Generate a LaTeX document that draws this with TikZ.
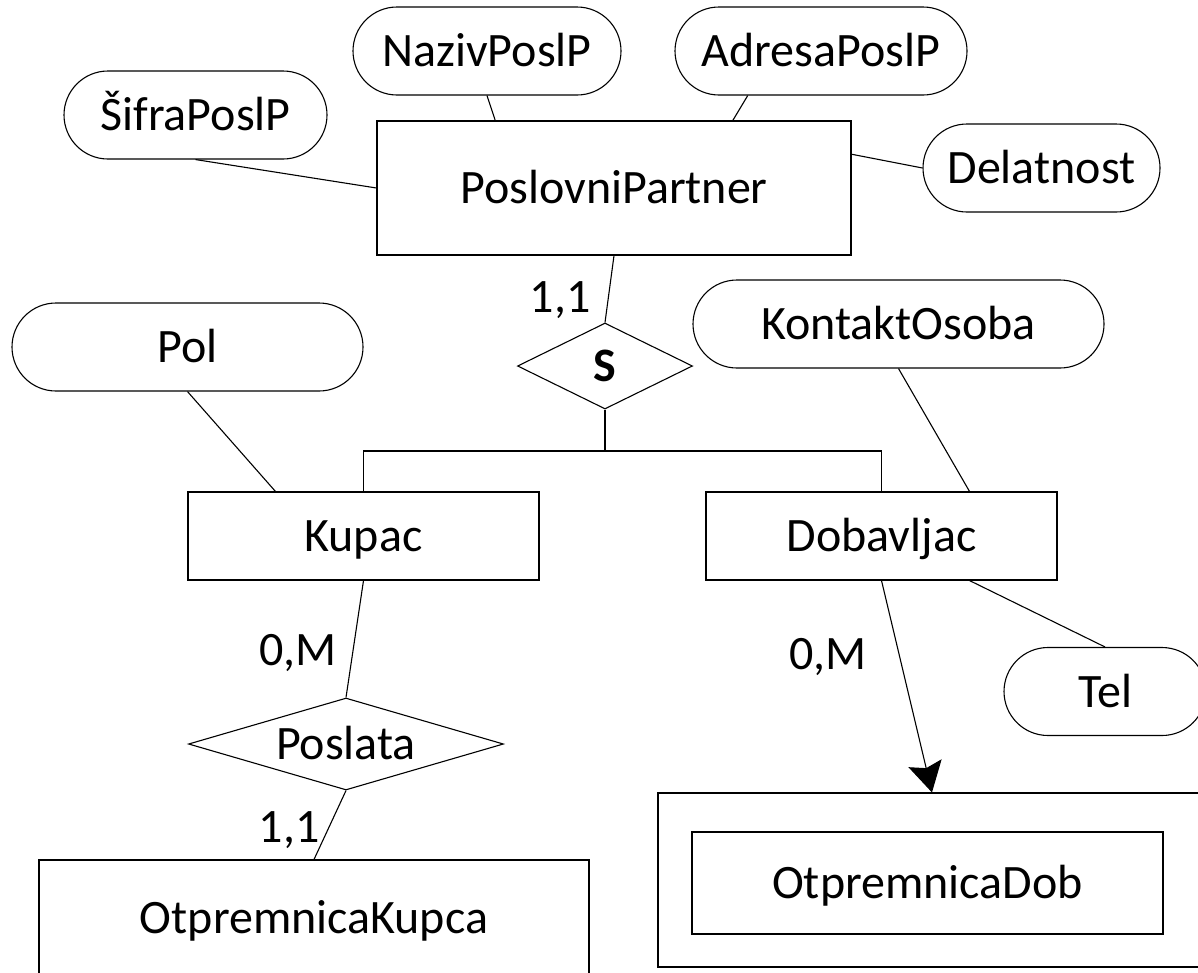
\documentclass[tikz,border=0pt]{standalone}
\usepackage{fontspec}
\setmainfont{Carlito}
\usetikzlibrary{shapes.geometric,arrows.meta,calc}
\begin{document}
\begin{tikzpicture}[x=1pt,y=-1pt,
  every node/.style={font=\fontsize{48}{58}\selectfont, inner sep=0pt, text height=31pt, text depth=0pt},
  stroke/.style={draw=black, line width=1.1pt},
  entity/.style={stroke, rectangle},
  attr/.style={stroke, rectangle, rounded corners=44pt, minimum height=88pt},
  rel/.style={stroke, diamond},
  conn/.style={stroke}
]
\useasboundingbox (0,0) rectangle (1198,972);
\clip (0,0) rectangle (1198,972);

% entities
\node[entity, minimum width=474pt, minimum height=134pt] (pp) at (614,188) {PoslovniPartner};
\node[entity, minimum width=351pt, minimum height=88pt] (kupac) at (363.5,536) {Kupac};
\node[entity, minimum width=351pt, minimum height=88pt] (dob) at (881.5,536) {Dobavljac};
\node[entity, minimum width=550pt, minimum height=116pt] (otpk) at (314,918) {OtpremnicaKupca};
\node[entity, minimum width=542pt, minimum height=174pt] (odout) at (929,880) {};
\node[entity, minimum width=471pt, minimum height=102pt] (odin) at (927.5,883) {OtpremnicaDob};

% attributes
\node[attr, minimum width=263pt] (sifra) at (195.5,115) {ŠifraPoslP};
\node[attr, minimum width=268pt] (naziv) at (487,51) {NazivPoslP};
\node[attr, minimum width=292pt] (adresa) at (821,51) {AdresaPoslP};
\node[attr, minimum width=237pt] (delat) at (1041.5,168) {Delatnost};
\node[attr, minimum width=351pt] (pol) at (187.5,347) {Pol};
\node[attr, minimum width=411pt] (kontakt) at (898.5,324) {KontaktOsoba};
\node[attr, minimum width=202pt] (tel) at (1105,691.5) {Tel};

% relationships
\node[rel, aspect=2, minimum width=175pt, minimum height=86pt] (s) at (605,366) {\bfseries S};
\node[rel, aspect=3.4, minimum width=315pt, minimum height=92pt] (poslata) at (346,744) {Poslata};

% cardinalities
\node (c1) at (560,297) {1,1};
\node (c2) at (298,650) {0,M};
\node (c3) at (828,654) {0,M};
\node (c4) at (289,827) {1,1};

% attribute links
\draw[conn] (sifra.south) -- (pp.west);
\draw[conn] (naziv.south) -- ($(pp.north west)!0.25!(pp.north east)$);
\draw[conn] ($(adresa.south west)!0.25!(adresa.south east)$) -- ($(pp.north west)!0.75!(pp.north east)$);
\draw[conn] ($(pp.north east)!0.25!(pp.south east)$) -- (delat.west);
\draw[conn] (pol.south) -- ($(kupac.north west)!0.25!(kupac.north east)$);
\draw[conn] (kontakt.south) -- ($(dob.north west)!0.75!(dob.north east)$);
\draw[conn] ($(dob.south west)!0.75!(dob.south east)$) -- (tel.north);

% specialization
\draw[conn] (pp.south) -- (s.north);
\coordinate (j) at (605,451);
\draw[conn] (s.south) -- (j);
\draw[conn] (kupac.north) |- (j) -| (dob.north);

% relationship links
\draw[conn] (kupac.south) -- (poslata.north);
\draw[conn] (poslata.south) -- (otpk.north);
\coordinate (odtop) at ($(odout.north west)!0.5055!(odout.north east)$);
\draw[conn, -{Stealth[length=30pt, width=34pt, inset=5pt]}] (dob.south) -- (odtop);
\end{tikzpicture}
\end{document}
